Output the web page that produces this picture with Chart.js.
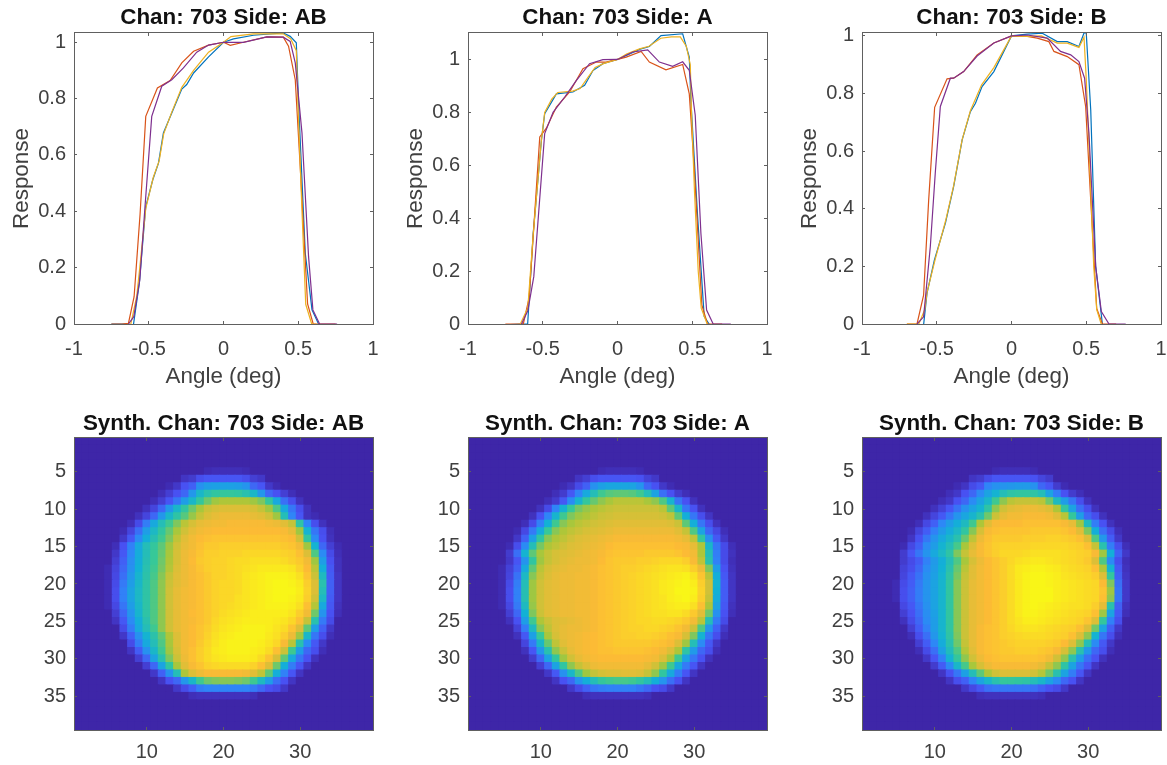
<!DOCTYPE html>
<html lang="en">
<head>
<meta charset="UTF-8">
<title>Chan 703</title>
<script src="https://cdn.jsdelivr.net/npm/chart.js"></script>
<style>
    body { margin: 0; background: #fff; width: 1167px; height: 765px; overflow: hidden; position: relative; }
    canvas { position: absolute; }
</style>
</head>
<body>
<canvas id="lineAB" style="left:0;top:0" width="390" height="390"></canvas>
<canvas id="lineA" style="left:394px;top:0" width="390" height="390"></canvas>
<canvas id="lineB" style="left:788px;top:0" width="390" height="390"></canvas>
<canvas id="heatAB" style="left:0;top:400px" width="390" height="365"></canvas>
<canvas id="heatA" style="left:394px;top:400px" width="390" height="365"></canvas>
<canvas id="heatB" style="left:788px;top:400px" width="390" height="365"></canvas>
<script>
// response curves, [angle, response]
const abBlue = [[-0.75,0],[-0.66,0],[-0.603,-0.005],[-0.563,0.145],[-0.52,0.417],[-0.473,0.512],[-0.435,0.571],[-0.402,0.678],[-0.346,0.749],[-0.279,0.834],[-0.246,0.85],[-0.2,0.891],[-0.1,0.948],[0,1],[0.067,1.012],[0.2,1.025],[0.4,1.033],[0.446,1.021],[0.487,0.998],[0.502,0.784],[0.547,0.251],[0.592,0.05],[0.636,0]];
const abOrange = [[-0.75,0],[-0.68,0],[-0.636,0.002],[-0.598,0.097],[-0.558,0.39],[-0.52,0.737],[-0.442,0.838],[-0.357,0.864],[-0.279,0.927],[-0.2,0.968],[-0.1,0.99],[0,1],[0.045,0.989],[0.134,1],[0.29,1.019],[0.4,1.018],[0.435,0.986],[0.48,0.867],[0.513,0.56],[0.5625,0.071],[0.6,0],[0.75,0]];
const abYellow = [[-0.69,-0.005],[-0.62,0],[-0.58,0.1],[-0.56,0.2],[-0.52,0.41],[-0.47,0.52],[-0.43,0.58],[-0.4,0.675],[-0.346,0.752],[-0.279,0.84],[-0.2,0.9],[-0.1,0.965],[0,1],[0.05,1.02],[0.2,1.03],[0.4,1.03],[0.45,1.012],[0.487,0.97],[0.5,0.75],[0.525,0.4],[0.55,0.07],[0.59,0],[0.62,0]];
const abPurple = [[-0.636,0],[-0.6,0.026],[-0.56,0.156],[-0.525,0.417],[-0.48,0.737],[-0.413,0.844],[-0.346,0.867],[-0.268,0.909],[-0.179,0.965],[-0.1,0.99],[0,1],[0.134,1],[0.29,1.019],[0.4,1.018],[0.446,1.003],[0.48,0.927],[0.525,0.678],[0.569,0.239],[0.598,0.05],[0.643,0],[0.76,0]];

const aBlue = [[-0.74,-0.003],[-0.65,0],[-0.601,0],[-0.564,0.342],[-0.509,0.694],[-0.487,0.795],[-0.409,0.87],[-0.298,0.877],[-0.22,0.902],[-0.164,0.958],[-0.098,0.984],[0,1],[0.147,1.038],[0.213,1.049],[0.291,1.09],[0.436,1.097],[0.48,1.009],[0.491,0.845],[0.536,0.405],[0.58,0.028],[0.613,0]];
const aOrange = [[-0.75,0],[-0.63,0],[-0.591,0.1],[-0.52,0.707],[-0.476,0.74],[-0.409,0.82],[-0.32,0.877],[-0.231,0.965],[-0.142,0.99],[-0.076,0.99],[0,1],[0.058,1.009],[0.158,1.03],[0.213,0.99],[0.324,0.961],[0.436,0.981],[0.48,0.87],[0.513,0.594],[0.564,0.072],[0.602,0],[0.7,0]];
const aYellow = [[-0.7,-0.005],[-0.65,0],[-0.6,0.06],[-0.565,0.33],[-0.51,0.69],[-0.487,0.8],[-0.44,0.85],[-0.4,0.875],[-0.3,0.88],[-0.25,0.89],[-0.2,0.93],[-0.15,0.97],[-0.09,0.985],[0,1],[0.06,1.02],[0.147,1.04],[0.21,1.05],[0.29,1.08],[0.36,1.085],[0.42,1.085],[0.46,1.05],[0.487,0.98],[0.495,0.8],[0.515,0.5],[0.54,0.2],[0.56,0.06],[0.6,0]];
const aPurple = [[-0.642,0],[-0.6,0.05],[-0.56,0.179],[-0.487,0.72],[-0.431,0.8],[-0.353,0.858],[-0.276,0.92],[-0.187,0.984],[-0.098,0.999],[0,1],[0.102,1.028],[0.202,1.036],[0.28,0.99],[0.369,0.974],[0.436,0.991],[0.48,0.959],[0.52,0.789],[0.558,0.342],[0.596,0.053],[0.64,0],[0.758,0]];

const bBlue = [[-0.588,-0.003],[-0.565,0.107],[-0.516,0.222],[-0.442,0.35],[-0.387,0.477],[-0.33,0.639],[-0.275,0.737],[-0.241,0.766],[-0.197,0.824],[-0.118,0.876],[0,1],[0.105,1.006],[0.206,1.009],[0.306,0.98],[0.373,0.98],[0.451,0.963],[0.485,1.01],[0.5,1.01],[0.53,0.743],[0.563,0.2],[0.608,0]];
const bOrange = [[-0.7,0],[-0.632,0],[-0.588,0.1],[-0.554,0.43],[-0.514,0.752],[-0.431,0.851],[-0.387,0.853],[-0.32,0.876],[-0.23,0.934],[-0.118,0.975],[0,1],[0.105,0.998],[0.172,0.992],[0.25,0.98],[0.284,0.946],[0.373,0.928],[0.451,0.9],[0.496,0.755],[0.53,0.43],[0.57,0.054],[0.608,0],[0.7,0]];
const bYellow = [[-0.7,0],[-0.62,0],[-0.58,0.05],[-0.565,0.11],[-0.51,0.225],[-0.44,0.36],[-0.387,0.48],[-0.33,0.64],[-0.275,0.74],[-0.2,0.83],[-0.118,0.89],[0,1],[0.105,0.998],[0.2,1],[0.306,0.975],[0.373,0.975],[0.451,0.96],[0.485,0.995],[0.5,0.85],[0.52,0.6],[0.55,0.2],[0.57,0.05],[0.6,0]];
const bPurple = [[-0.632,0],[-0.588,0.025],[-0.543,0.269],[-0.51,0.523],[-0.476,0.755],[-0.409,0.853],[-0.387,0.853],[-0.32,0.876],[-0.23,0.93],[-0.118,0.975],[0,1],[0.105,1.003],[0.239,0.992],[0.328,0.946],[0.396,0.934],[0.451,0.911],[0.489,0.853],[0.518,0.662],[0.563,0.2],[0.601,0.043],[0.652,0],[0.764,0]];

// synth images, rows 5..35 as [first column, values...], everything else is 0
const synthAB = [
[18,2,3,3,3,3,2],
[15,5,7,13,15,15,15,15,15,13,8,6],
[13,2,6,14,18,32,36,37,37,37,36,33,20,15,6,2],
[12,3,8,14,20,34,46,52,55,56,56,55,52,46,34,20,14,8,3],
[11,3,8,15,24,36,46,56,64,70,72,72,72,72,70,66,56,40,22,13,4],
[10,4,10,20,34,46,55,64,71,77,79,80,80,80,80,79,76,70,60,40,24,13,4],
[9,4,10,20,34,46,54,61,69,76,80,82,83,83,83,83,82,81,78,70,50,28,15,4,2],
[8,3,12,26,40,50,58,66,74,79,82,83,84,84,85,85,85,85,85,84,83,81,76,54,28,13,4],
[7,2,10,22,36,47,55,63,71,78,82,84,85,86,86,86,86,86,86,86,86,86,85,82,70,44,24,13,3],
[7,6,16,30,42,51,58,66,75,81,84,86,87,88,88,88,88,88,88,88,88,88,87,86,78,55,30,14,4],
[6,3,14,27,40,50,56,62,70,78,82,84,87,89,89,90,90,90,90,90,90,90,90,89,88,84,70,44,20,8,2],
[6,6,16,29,41,50,57,63,71,79,83,85,88,90,90,91,91,91,92,92,92,92,92,91,90,87,80,60,30,12,3],
[6,8,18,31,42,51,57,64,72,79,83,86,89,90,91,91,92,93,93,94,94,94,94,93,91,89,84,70,36,14,4],
[5,2,10,20,32,43,52,58,65,73,80,83,85,88,90,91,91,92,93,94,95,96,96,96,96,95,91,86,74,42,16,4],
[5,2,11,22,34,45,53,59,67,76,81,83,85,87,89,91,91,92,93,95,96,97,98,98,98,97,94,88,77,48,17,5],
[5,2,12,25,36,46,54,60,68,77,81,83,85,87,89,91,92,92,93,95,96,97,98,99,99,98,96,90,80,52,18,5],
[5,2,13,27,38,47,54,60,68,78,82,84,85,87,89,91,92,92,93,95,96,97,98,99,99,99,97,91,80,50,18,5],
[5,2,13,27,38,47,54,60,68,78,82,84,85,87,89,91,92,92,94,95,96,97,98,99,99,98,96,90,78,47,17,5],
[5,2,11,24,36,46,54,60,68,78,82,84,85,87,89,91,92,93,94,95,96,97,98,98,98,97,94,87,73,40,16,4],
[6,8,20,33,45,54,60,68,78,82,84,86,87,89,91,93,94,95,96,97,97,97,97,97,95,90,84,64,33,14,3],
[6,5,16,30,42,52,60,68,78,82,84,85,87,89,92,94,95,96,97,97,97,97,96,95,92,87,76,52,25,12],
[7,12,26,40,50,58,68,78,82,84,86,88,90,93,95,96,97,98,98,98,97,95,93,88,80,62,36,18,6],
[7,6,18,32,44,53,62,72,80,84,86,88,91,94,96,97,98,98,98,98,96,94,90,83,70,46,24,13,3],
[8,12,26,40,50,60,71,80,84,86,89,92,95,97,98,98,98,98,97,95,92,85,74,52,30,16,6],
[8,5,17,32,46,58,70,79,84,87,90,93,96,97,98,98,98,97,96,93,87,77,58,36,20,13,3],
[9,8,20,38,52,66,77,83,87,90,93,95,96,97,97,97,96,93,88,79,62,40,24,14,4],
[10,8,20,38,55,71,81,85,88,91,92,93,93,93,93,91,87,80,64,42,26,15,5],
[11,6,18,32,50,72,80,83,85,85,85,85,85,84,81,75,62,42,27,15,5],
[12,5,14,20,34,46,58,64,66,67,67,66,64,58,48,36,22,14,5],
[14,6,12,18,26,28,28,28,28,28,28,25,20,14,12,6],
[16,3,4,4,4,4,4,4,4,3]
];
const synthA = [
[18,2,3,3,3,3,2],
[15,5,8,13,15,15,15,15,15,14,9,6],
[13,2,5,12,18,32,37,39,39,39,38,33,20,14,6,2],
[12,3,7,16,28,40,50,58,61,62,62,61,58,50,38,22,14,7,3],
[11,3,7,16,30,45,56,63,68,71,74,74,74,74,71,68,60,45,24,14,4],
[10,4,12,28,44,57,65,69,72,74,76,77,77,77,77,77,77,74,62,46,24,14,4],
[9,4,14,28,45,58,66,70,72,75,77,78,79,79,79,79,79,79,78,75,62,42,24,13,5],
[8,3,12,27,43,58,67,71,74,76,78,79,80,81,81,81,81,81,81,81,80,77,62,42,24,13,4],
[7,2,11,25,41,57,67,72,75,77,79,80,81,82,83,83,83,83,83,83,83,83,81,76,60,38,20,11,3],
[7,6,18,37,55,67,72,75,78,80,81,82,83,84,85,85,85,85,85,85,85,85,84,82,75,55,32,16,6],
[6,2,13,30,50,65,72,75,78,80,81,82,83,84,86,87,87,87,87,87,87,87,87,86,85,82,72,46,24,12,3],
[6,7,22,44,62,71,76,79,80,81,82,83,84,85,87,88,88,88,88,89,89,89,89,88,86,84,72,50,26,12,4],
[6,6,15,33,55,70,76,79,81,82,83,83,84,86,88,89,89,89,90,90,91,92,92,92,90,85,75,52,27,12,3],
[5,2,9,18,40,62,74,79,81,82,83,83,84,85,87,88,89,90,90,91,92,93,94,95,95,94,90,83,66,36,14,4],
[5,2,10,23,47,67,76,80,82,83,83,84,84,85,87,88,89,90,91,92,93,94,95,96,97,98,95,88,74,42,16,5],
[5,2,12,26,50,70,78,81,82,83,83,84,84,85,87,88,89,90,91,92,93,94,96,97,98,99,97,90,78,44,17,5],
[5,2,13,27,51,70,78,81,82,83,83,84,84,85,87,88,89,90,91,92,93,94,96,97,99,99,98,91,78,43,17,5],
[5,2,13,27,51,70,78,81,82,83,83,84,84,85,87,88,89,90,91,92,93,94,95,97,98,99,97,90,76,41,17,5],
[5,2,11,25,48,69,78,81,82,83,83,84,84,85,87,88,89,90,91,92,93,94,95,96,97,97,94,87,72,38,16,4],
[6,8,20,43,66,77,81,82,83,83,84,84,85,87,88,89,90,91,92,93,94,94,95,95,93,89,81,64,32,14,3],
[6,4,14,36,58,72,77,80,81,82,83,84,85,87,88,89,90,91,92,92,93,93,92,91,89,84,74,50,25,12],
[7,9,26,48,67,75,80,82,83,83,84,85,87,88,89,90,91,91,92,92,91,90,88,84,77,60,34,18,6],
[7,4,16,37,57,71,79,82,83,84,85,86,87,88,89,90,90,91,91,90,89,87,85,79,66,44,24,13,3],
[8,10,25,46,63,75,81,83,84,85,86,87,88,89,89,89,89,89,88,87,85,80,70,50,30,16,6],
[8,4,15,34,52,68,77,82,84,85,86,87,87,88,88,88,88,87,86,84,80,72,54,35,20,13,3],
[9,7,20,38,55,70,78,82,84,85,86,86,86,86,86,86,85,84,80,72,58,38,24,14,4],
[10,8,20,38,55,68,76,80,83,84,84,84,84,84,84,82,78,70,58,40,25,15,5],
[11,6,16,32,46,60,70,76,79,80,80,81,81,80,76,68,55,40,26,15,5],
[12,5,14,20,33,42,50,56,58,59,59,58,55,50,42,33,22,14,5],
[14,6,12,18,24,26,27,27,27,27,24,20,14,12,6],
[16,3,4,4,4,4,4,4,4,3]
];
const synthB = [
[18,2,3,3,3,3,2],
[15,5,7,12,15,15,15,15,15,14,10,7],
[13,2,5,12,16,28,32,33,34,35,35,32,20,15,7,2],
[12,3,6,14,20,30,38,44,50,54,55,55,54,50,38,26,14,7,3],
[11,3,6,14,20,30,38,46,58,68,74,76,76,76,74,64,48,36,24,13,4],
[10,4,9,15,23,32,38,44,54,68,78,81,82,83,83,82,80,72,56,38,22,13,4],
[9,4,10,16,24,33,39,45,52,64,77,82,84,84,85,85,85,84,81,74,56,36,20,13,4],
[8,3,11,18,29,36,42,48,58,72,81,85,86,86,86,87,87,87,87,87,85,82,70,48,26,14,4],
[7,2,10,17,27,35,41,47,55,67,79,85,87,88,88,88,88,89,89,89,89,88,86,81,66,42,22,12,3],
[7,5,14,24,33,40,46,52,63,75,83,87,89,89,89,89,90,90,90,91,91,90,89,87,80,60,34,17,6],
[6,2,11,18,30,36,44,50,59,71,80,85,88,90,91,91,91,91,92,92,92,92,92,91,90,87,76,52,26,13,3],
[6,7,15,24,33,40,47,54,66,76,82,85,88,90,92,92,92,93,94,94,94,94,93,92,91,90,85,70,42,18,6],
[6,7,12,17,27,35,42,50,60,71,79,83,86,88,90,92,94,95,96,96,95,94,93,92,91,89,80,60,30,13,3],
[6,9,13,20,30,36,43,52,63,74,81,84,86,88,90,93,96,97,98,98,97,96,94,93,92,91,87,72,44,16,4],
[6,10,16,23,32,37,44,54,65,76,81,84,86,88,90,93,96,98,99,99,98,97,95,94,93,92,90,80,56,18,5],
[5,2,12,17,25,33,38,45,55,67,77,82,84,86,88,90,93,96,98,99,99,98,97,96,95,94,93,92,86,66,22,6],
[5,2,13,18,26,33,38,45,55,67,77,82,84,86,88,90,93,96,98,99,99,99,97,96,95,94,93,92,88,70,24,6],
[5,2,13,18,26,33,38,45,55,67,77,82,84,86,88,90,93,96,98,99,99,99,97,96,95,94,93,92,87,68,24,6],
[6,11,16,24,32,38,45,55,67,77,82,84,86,88,90,93,96,98,99,98,97,96,95,94,94,93,90,82,52,18,4],
[6,8,14,22,31,37,45,55,67,77,82,84,86,88,90,93,96,98,98,97,96,95,94,93,92,91,87,70,38,16,3],
[6,4,12,20,30,36,45,55,67,77,82,84,86,88,90,93,95,97,97,96,95,94,93,92,91,88,80,56,27,13],
[7,8,17,27,36,45,55,67,77,82,85,87,88,90,92,94,95,95,94,93,92,91,90,87,80,64,38,18,6],
[7,3,13,22,34,44,54,66,77,82,85,87,88,90,91,92,93,93,93,92,91,90,87,80,68,44,24,13,3],
[8,8,17,29,41,52,64,76,82,85,87,88,89,90,91,91,91,91,90,89,86,80,68,50,30,16,6],
[8,3,12,22,37,49,60,73,81,85,87,88,89,89,90,90,90,89,88,85,79,68,52,34,20,13,3],
[9,6,15,27,44,56,68,78,83,86,87,88,88,88,88,88,87,84,78,68,52,36,22,14,4],
[10,7,17,30,46,59,71,79,83,85,85,85,85,85,84,82,76,68,54,38,24,15,5],
[11,5,14,24,37,50,62,72,78,80,80,80,80,78,73,64,52,38,26,15,5],
[12,5,13,18,28,38,46,52,56,56,55,54,50,46,38,30,20,14,5],
[14,6,11,16,22,24,24,24,24,24,22,18,14,12,6],
[16,3,4,4,4,4,4,4,4,3]
];

const xTicksAngle = [-1, -0.5, 0, 0.5, 1];
const yTicksResponse = [0, 0.2, 0.4, 0.6, 0.8, 1];
const xTicksSynth = [10, 20, 30];
const yTicksSynth = [5, 10, 15, 20, 25, 30, 35];
const lineColors = ['#0072BD', '#D95319', '#EDB120', '#7E2F8E'];
// parula, 8 stops
const parula = [[62,38,168],[72,82,244],[46,135,247],[18,177,214],[55,200,151],[171,199,57],[252,186,54],[249,251,21]];

const axisColor = '#606060';
const textColor = '#404040';
const tickFont = { family: 'Liberation Sans', size: 20 };
const labelFont = { family: 'Liberation Sans', size: 22.4 };

function parulaColor(v) {
    const p = Math.min(v / 100, 1) * (parula.length - 1);
    const i = Math.min(Math.floor(p), parula.length - 2);
    const f = p - i;
    const c = parula[i].map((a, k) => Math.round(a + (parula[i + 1][k] - a) * f));
    return `rgb(${c[0]},${c[1]},${c[2]})`;
}

function setTicks(list) {
    return s => { s.ticks = list.map(v => ({ value: v })); };
}

// tick labels must not push the plot area around
function fixSize(width, height) {
    return s => {
        if (width !== null) s.width = width;
        if (height !== null) s.height = height;
        s.paddingLeft = s.paddingRight = s.paddingTop = s.paddingBottom = 0;
    };
}

// the scales every panel shares: box on, ticks pointing in
function boxScales(xr, yr, xt, yt, reverse, bottomSize, xPad) {
    const grid = { drawOnChartArea: false, tickLength: -3, color: axisColor, z: 1 };
    const border = { color: axisColor, width: 1, z: 1 };
    return {
        x: {
            type: 'linear', min: xr[0], max: xr[1], position: 'bottom', grid, border,
            afterBuildTicks: setTicks(xt),
            afterFit: fixSize(null, bottomSize),
            ticks: { color: textColor, font: tickFont, padding: xPad, maxRotation: 0, autoSkip: false, callback: v => String(v) }
        },
        y: {
            type: 'linear', min: yr[0], max: yr[1], reverse, position: 'left', grid, border,
            afterBuildTicks: setTicks(yt),
            afterFit: fixSize(74, null),
            ticks: { color: textColor, font: tickFont, padding: 11, autoSkip: false, callback: v => String(v) }
        },
        xTop: {
            type: 'linear', min: xr[0], max: xr[1], position: 'top', grid, border,
            afterBuildTicks: setTicks(xt),
            afterFit: fixSize(null, 0),
            ticks: { display: false }
        },
        yRight: {
            type: 'linear', min: yr[0], max: yr[1], reverse, position: 'right', grid, border,
            afterBuildTicks: setTicks(yt),
            afterFit: fixSize(0, null),
            ticks: { display: false }
        }
    };
}

function titleOptions(text, top, bottom) {
    return {
        display: true, text, fullSize: false, color: '#111',
        font: { family: 'Liberation Sans', size: 22.4, weight: 'bold' },
        padding: { top, bottom }
    };
}

function linePanel(id, title, ymax, curves) {
    const scales = boxScales([-1, 1], [0, ymax], xTicksAngle, yTicksResponse, false, 66, 16);
    scales.x.title = { display: true, text: 'Angle (deg)', color: textColor, font: labelFont, padding: { top: 0, bottom: 0 } };
    scales.y.title = { display: true, text: 'Response', color: textColor, font: labelFont, padding: { top: 8, bottom: 0 } };
    new Chart(document.getElementById(id), {
        type: 'scatter',
        data: {
            datasets: curves.map((c, i) => ({
                data: c.map(p => ({ x: p[0], y: p[1] })),
                showLine: true,
                borderColor: lineColors[i],
                borderWidth: 1.2,
                pointRadius: 0,
                tension: 0,
                order: curves.length - i
            }))
        },
        options: {
            responsive: false, animation: false, events: [],
            layout: { padding: { right: 17 } },
            scales,
            plugins: { legend: { display: false }, tooltip: { enabled: false }, title: titleOptions(title, 4.2, 1.9) }
        }
    });
}

function heatPanel(id, title, rows) {
    const points = [];
    for (let r = 1; r <= 39; r++) {
        const row = rows[r - 5] || [1];
        for (let c = 1; c <= 39; c++) {
            const v = row[c - row[0] + 1];
            points.push({ x: c, y: r, v: v === undefined || c < row[0] ? 0 : v });
        }
    }
    new Chart(document.getElementById(id), {
        type: 'scatter',
        data: {
            datasets: [{
                data: points,
                pointStyle: 'rect',
                pointRadius: 6.2,
                borderWidth: 0,
                backgroundColor: points.map(p => parulaColor(p.v))
            }]
        },
        options: {
            responsive: false, animation: false, events: [],
            layout: { padding: { right: 17 } },
            scales: boxScales([0.5, 39.5], [0.5, 39.5], xTicksSynth, yTicksSynth, true, 35, 13.7),
            plugins: { legend: { display: false }, tooltip: { enabled: false }, title: titleOptions(title, 10.5, 0.6) }
        }
    });
}

linePanel('lineAB', 'Chan: 703 Side: AB', 1.033, [abBlue, abOrange, abYellow, abPurple]);
linePanel('lineA', 'Chan: 703 Side: A', 1.1, [aBlue, aOrange, aYellow, aPurple]);
linePanel('lineB', 'Chan: 703 Side: B', 1.01, [bBlue, bOrange, bYellow, bPurple]);
heatPanel('heatAB', 'Synth. Chan: 703 Side: AB', synthAB);
heatPanel('heatA', 'Synth. Chan: 703 Side: A', synthA);
heatPanel('heatB', 'Synth. Chan: 703 Side: B', synthB);
</script>
</body>
</html>
